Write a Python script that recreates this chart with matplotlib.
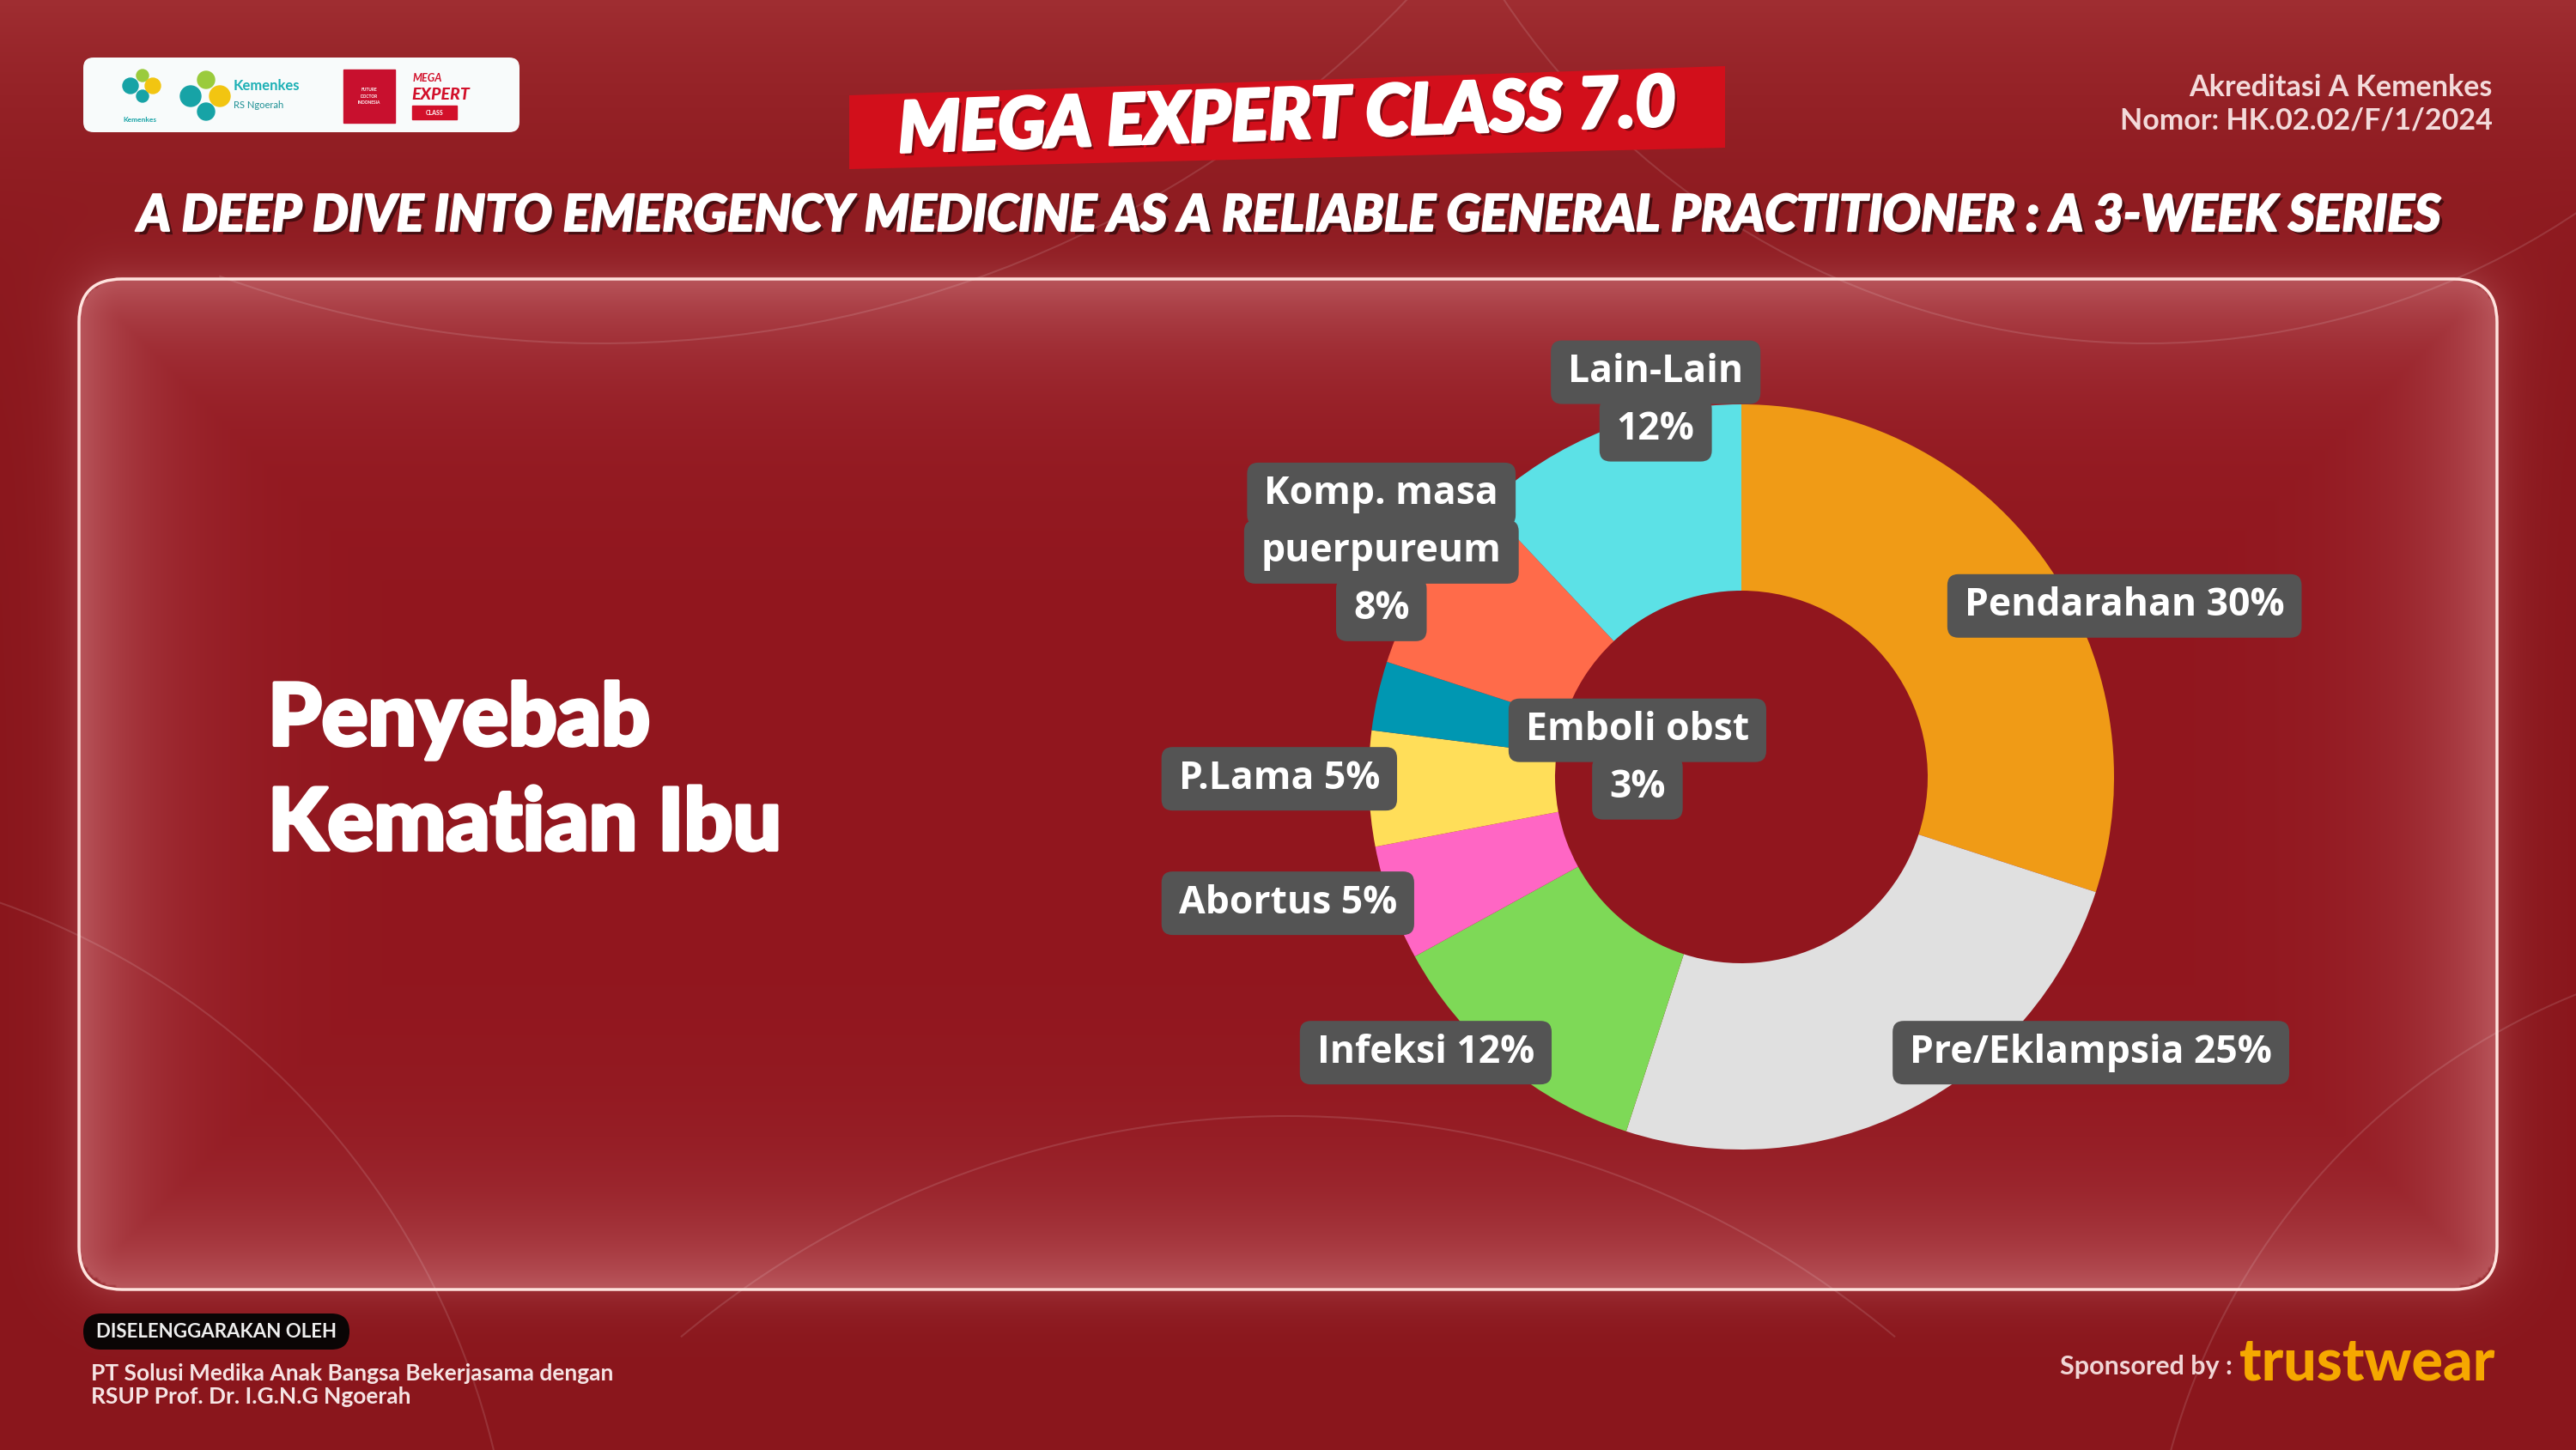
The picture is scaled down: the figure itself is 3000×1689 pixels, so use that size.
import numpy as np
import matplotlib.pyplot as plt
from matplotlib.patches import FancyBboxPatch, Polygon, Circle, Arc, Rectangle
from matplotlib.transforms import IdentityTransform, offset_copy
import matplotlib.patheffects as pe

# ---------------------------------------------------------------------------
# data
causes = ["Pendarahan", "Pre/Eklampsia", "Infeksi", "Abortus", "P.Lama",
          "Emboli obst", "Komp. masa\npuerpureum", "Lain-Lain"]
shares = [30, 25, 12, 5, 5, 3, 8, 12]
label_sep = [" ", " ", " ", " ", " ", "\n", "\n", "\n"]
colors = ["#f09b16", "#e0e0e0", "#7ed957", "#ff66c4", "#ffde59",
          "#0097b2", "#ff6b4a", "#5ce1e6"]

# where each label box sits (pie data coords, pie radius = 1)
label_pos = [(1.028, 0.459), (0.938, -0.740), (-0.847, -0.740), (-1.217, -0.339),
             (-1.240, -0.005), (-0.279, 0.048), (-0.966, 0.604), (-0.230, 1.009)]

W, H = 3000, 1689
fig = plt.figure(figsize=(30, 16.89), dpi=100)

# ---------------------------------------------------------------------------
# background (slide)
bg = fig.add_axes([0, 0, 1, 1])
bg.set_xlim(0, W)
bg.set_ylim(H, 0)
bg.axis("off")

s = 3
xs = (np.arange(W // s) + 0.5) * s
ys = (np.arange(H // s + 1) + 0.5) * s
X, Y = np.meshgrid(xs, ys)
base = np.array([138, 22, 28]) / 255
top = np.array([160, 46, 50]) / 255
t = np.exp(-Y / 160)[..., None]
img = base * (1 - t) + top * t

px0, py0, px1, py1, pr = 92, 325, 2908, 1502, 50
cx, cy = (px0 + px1) / 2, (py0 + py1) / 2
hx, hy = (px1 - px0) / 2, (py1 - py0) / 2
qx = np.abs(X - cx) - (hx - pr)
qy = np.abs(Y - cy) - (hy - pr)
sd = np.hypot(np.maximum(qx, 0), np.maximum(qy, 0)) + np.minimum(np.maximum(qx, qy), 0) - pr
inside = (sd < 0)[..., None]
panel_base = np.array([145, 22, 30]) / 255
glow = np.array([200, 110, 115]) / 255
w_in = (0.72 * np.exp(-np.clip(-sd, 0, None) / 85))[..., None]
w_out = (0.3 * np.exp(-np.clip(sd, 0, None) / 25))[..., None]
pimg = panel_base * (1 - w_in) + glow * w_in
oimg = img * (1 - w_out) + glow * w_out
img = np.where(inside, pimg, oimg)
bg.imshow(img, extent=(0, W, H, 0), interpolation="bilinear", zorder=0)
bg.set_aspect("auto")

# faint decorative lines
for (ax_, ay_, r_, a1, a2) in [(700, -900, 1300, 20, 110), (2500, -500, 900, 40, 150),
                               (-300, 1900, 900, 270, 360), (3300, 1900, 800, 180, 260),
                               (1500, 2400, 1100, 230, 310)]:
    bg.add_patch(Arc((ax_, ay_), 2 * r_, 2 * r_, theta1=a1, theta2=a2, color="white",
                     alpha=0.12, lw=1.5, zorder=1))

bg.add_patch(FancyBboxPatch((px0, py0), px1 - px0, py1 - py0,
                            boxstyle="round,pad=0,rounding_size=50",
                            fc="none", ec="#ffe3de", lw=2.5, zorder=2))

# logo box
bg.add_patch(FancyBboxPatch((97, 67), 508, 87, boxstyle="round,pad=0,rounding_size=12",
                            fc="#f8fbfb", ec="none", zorder=3))
for (x, y, r, c) in [(152, 100, 9, "#17a3a6"), (166, 88, 7, "#9acb3c"), (166, 112, 7, "#17a3a6"),
                     (178, 100, 9, "#f2c511"),
                     (222, 112, 12, "#17a3a6"), (240, 93, 10, "#9acb3c"), (240, 130, 10, "#17a3a6"),
                     (256, 112, 12, "#f2c511")]:
    bg.add_patch(Circle((x, y), r, color=c, zorder=4))
bg.text(163, 139, "Kemenkes", fontsize=6, color="#17a3a6", ha="center", va="center",
        family="Lato", weight="bold", zorder=4)
bg.text(272, 100, "Kemenkes", fontsize=12, color="#1cb0b5", ha="left", va="center",
        family="Lato", weight="bold", zorder=4)
bg.text(272, 122, "RS Ngoerah", fontsize=8, color="#1b8f93", ha="left", va="center",
        family="Lato", zorder=4)
bg.add_patch(Rectangle((400, 81), 60, 62, color="#c8102e", zorder=4))
bg.text(430, 112, "FUTURE\nDOCTOR\nINDONESIA", fontsize=3.5, color="white", ha="center",
        va="center", family="Lato", weight="bold", zorder=5, linespacing=1.6)
bg.text(481, 91, "MEGA", fontsize=9, color="#d2102a", ha="left", va="center",
        family="Lato", weight="bold", style="italic", zorder=4)
bg.text(479, 110, "EXPERT", fontsize=14, color="#d2102a", ha="left", va="center",
        family="Lato", weight="black", style="italic", zorder=4)
bg.add_patch(Rectangle((480, 123), 52, 16, color="#d2102a", zorder=4))
bg.text(506, 131, "CLASS", fontsize=5, color="white", ha="center", va="center",
        family="Lato", weight="bold", zorder=5)

# banner
bg.add_patch(Polygon([(989, 111), (2009, 77), (2009, 172), (989, 197)], closed=True,
                     fc="#d20f1b", ec="none", zorder=3))
bg.text(1499, 138, "MEGA EXPERT CLASS 7.0", fontsize=59, color="white", ha="center",
        va="center", rotation=2, family="Lato", weight="black", style="italic", zorder=4,
        path_effects=[pe.withSimplePatchShadow(offset=(3, -3), shadow_rgbFace="black", alpha=0.4),
                      pe.withStroke(linewidth=2.5, foreground="white")])

bg.text(1500, 252, "A DEEP DIVE INTO EMERGENCY MEDICINE AS A RELIABLE GENERAL PRACTITIONER : A 3-WEEK SERIES",
        fontsize=42.5, color="white", ha="center", va="center", family="Lato", weight="black",
        style="italic", zorder=4,
        path_effects=[pe.withSimplePatchShadow(offset=(3, -3), shadow_rgbFace="black", alpha=0.5),
                      pe.withStroke(linewidth=1.5, foreground="white")])

bg.text(2903, 102, "Akreditasi A Kemenkes", fontsize=24.5, color="#f3dada", ha="right",
        va="center", family="Lato", weight="bold", zorder=4)
bg.text(2903, 140, "Nomor: HK.02.02/F/1/2024", fontsize=24.5, color="#f3dada", ha="right",
        va="center", family="Lato", weight="bold", zorder=4)

# left title
title_fx = [pe.withStroke(linewidth=3, foreground="white")]
bg.text(312, 868, "Penyebab", fontsize=72, color="white", ha="left", va="baseline",
        family="Lato", weight="black", zorder=4, path_effects=title_fx)
bg.text(312, 990, "Kematian Ibu", fontsize=72, color="white", ha="left", va="baseline",
        family="Lato", weight="black", zorder=4, path_effects=title_fx)

# footer
bg.add_patch(FancyBboxPatch((97, 1530), 310, 42, boxstyle="round,pad=0,rounding_size=21",
                            fc="#0a0505", ec="none", zorder=3))
bg.text(252, 1552, "DISELENGGARAKAN OLEH", fontsize=16, color="#eeeeee", ha="center",
        va="center", family="Lato", weight="bold", zorder=4)
bg.text(106, 1600, "PT Solusi Medika Anak Bangsa Bekerjasama dengan", fontsize=19,
        color="#f6e4e4", ha="left", va="center", family="Lato", weight="bold", zorder=4)
bg.text(106, 1627, "RSUP Prof. Dr. I.G.N.G Ngoerah", fontsize=19,
        color="#f6e4e4", ha="left", va="center", family="Lato", weight="bold", zorder=4)
bg.text(2600, 1592, "Sponsored by :", fontsize=22, color="#f1d6d6", ha="right",
        va="center", family="Lato", weight="bold", zorder=4)
bg.text(2608, 1607, "trustwear", fontsize=49, color="#f6a800", ha="left",
        va="baseline", family="Lato", weight="black", zorder=4)

# ---------------------------------------------------------------------------
# donut
R = 434
pcx, pcy = 2028, 905
ax = fig.add_axes([(pcx - R) / W, 1 - (pcy + R) / H, 2 * R / W, 2 * R / H])
ax.pie(shares, colors=colors, startangle=90, counterclock=False,
       wedgeprops=dict(width=0.5, linewidth=0))
ax.set_xlim(-1, 1)
ax.set_ylim(-1, 1)
ax.axis("off")

line_step = 67 * 72 / 100  # points
texts = []
for name, val, sep, (lx, ly) in zip(causes, shares, label_sep, label_pos):
    lines = (name + sep + f"{val}%").split("\n")
    n = len(lines)
    for i, ln in enumerate(lines):
        tr = offset_copy(ax.transData, fig=fig, x=0, y=((n - 1) / 2 - i) * line_step, units="points")
        tt = ax.text(lx, ly, ln, transform=tr, ha="center", va="center", fontsize=32,
                     color="white", family="Open Sans", weight="bold", zorder=6, clip_on=False)
        texts.append(tt)

fig.canvas.draw()
rend = fig.canvas.get_renderer()
for tt in texts:
    bb = tt.get_window_extent(rend)
    mid = (bb.y0 + bb.y1) / 2
    box = FancyBboxPatch((bb.x0 - 20, mid - 37), bb.width + 40, 74,
                         boxstyle="round,pad=0,rounding_size=13", fc="#545454", ec="none",
                         transform=IdentityTransform(), zorder=5, clip_on=False)
    ax.add_artist(box)

fig.savefig("out.png", dpi=100)
